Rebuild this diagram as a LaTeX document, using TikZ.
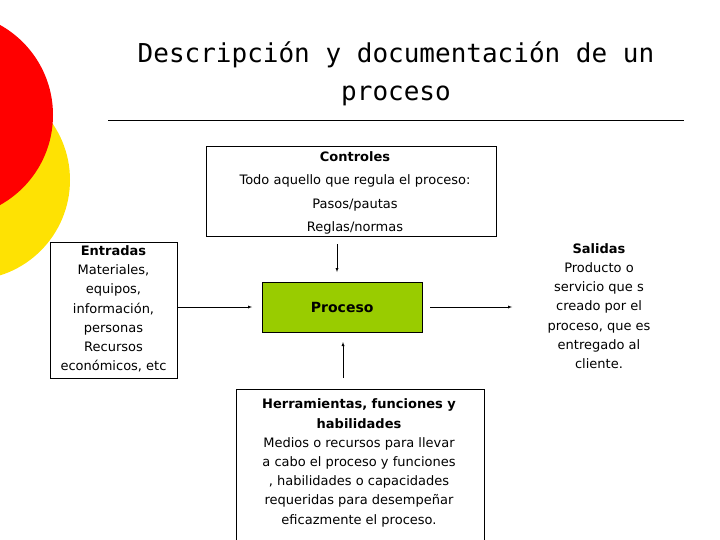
\documentclass[tikz,border=0pt]{standalone}
\usepackage{fontspec}
\setmainfont{DejaVu Sans}
\newfontfamily\titlefont{DejaVu Sans Mono}
\begin{document}
\begin{tikzpicture}[x=1pt,y=-1pt,
  box/.style={draw,thin},
  txt/.style={align=center,font=\fontsize{13}{19.2}\selectfont},
  arr/.style={-latex,thin}]
\useasboundingbox (0,0) rectangle (720,540);
\fill[yellow!85!orange] (-30,180) circle (100);
\fill[red] (-50,115) circle (103);
\node[font=\titlefont\fontsize{26}{38}\selectfont,align=center] (title) at (396,74) {Descripción y documentación de un\\proceso};
\draw[thick] (108,120) coordinate (l1) -- (684,120) coordinate (l2);
\node[box,minimum width=290,minimum height=90,anchor=north west] (ctl) at (206,146) {};
\node[txt,font=\fontsize{13}{23.3}\selectfont] (ctlt) at (355,193) {\textbf{Controles}\\Todo aquello que regula el proceso:\\Pasos/pautas\\Reglas/normas};
\node[box,minimum width=127,minimum height=136,anchor=north west] (ent) at (50,242) {};
\node[txt] (entt) at (113.5,309) {\textbf{Entradas}\\Materiales,\\equipos,\\información,\\personas\\Recursos\\económicos, etc};
\node[box,fill={rgb,255:red,153;green,204;blue,0},minimum width=160,minimum height=50,anchor=north west,font=\fontsize{14}{16}\selectfont] (proc) at (262,282) {\textbf{Proceso}};
\node[txt] (sal) at (599,306) {\textbf{Salidas}\\Producto o\\servicio que s\\creado por el\\proceso, que es\\entregado al\\cliente.};
\node[box,minimum width=248,minimum height=160,anchor=north west] (her) at (236,389) {};
\node[txt] (hert) at (359,463) {\textbf{Herramientas, funciones y}\\\textbf{habilidades}\\Medios o recursos para llevar\\a cabo el proceso y funciones\\, habilidades o capacidades\\requeridas para desempeñar\\eficazmente el proceso.};
\coordinate (a1) at (337,244); \coordinate (a2) at (337,272);
\coordinate (b1) at (343,378); \coordinate (b2) at (343,342);
\coordinate (c1) at (177,307); \coordinate (c2) at (252,307);
\coordinate (d1) at (430,307); \coordinate (d2) at (512,307);
\draw[arr] (a1) -- (a2);
\draw[arr] (b1) -- (b2);
\draw[arr] (c1) -- (c2);
\draw[arr] (d1) -- (d2);
\end{tikzpicture}
\end{document}
